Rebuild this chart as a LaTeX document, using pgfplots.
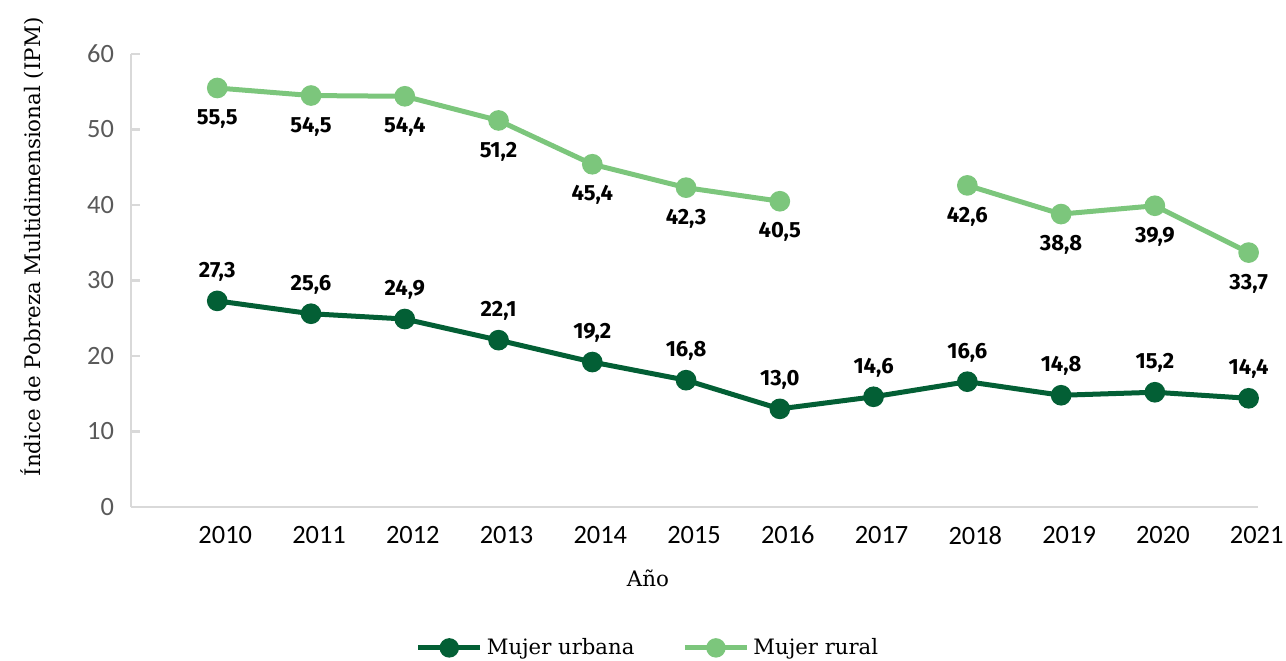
\documentclass[border=0pt]{standalone}
\usepackage{pgfplots}
\pgfplotsset{compat=1.18}
\usepackage{fontspec}
\setmainfont{DejaVu Serif}
\newfontfamily\carlito{Carlito}
\newfontfamily\fira{Fira Sans}
\definecolor{dkgreen}{HTML}{035F35}
\definecolor{ltgreen}{HTML}{7CC67C}
\definecolor{axisgray}{HTML}{D9D9D9}
\definecolor{tickgray}{HTML}{595959}
\begin{document}
\begin{tikzpicture}
\useasboundingbox (-65.5pt,-76.5pt) rectangle (577.5pt,253.5pt);
\begin{axis}[
  at={(0pt,0pt)}, anchor=south west,
  scale only axis, width=563.5pt, height=226.5pt,
  xmin=2009.08, xmax=2021.1, ymin=0, ymax=60,
  axis x line*=bottom, axis y line*=left,
  axis line style={draw=axisgray, line width=1.2pt},
  xtick={2010,2011,2012,2013,2014,2015,2016,2017,2018,2019,2020,2021},
  xticklabels={2010,2011,2012,2013,2014,2015,2016,2017,2018,2019,2020,2021},
  ytick={0,10,20,30,40,50,60},
  /pgf/number format/assume math mode=true,
  x tick style={draw=none},
  y tick style={draw=axisgray, line width=1.2pt},
  major tick length=4.5pt,
  tick align=inside,
  xticklabel style={font=\carlito\fontsize{13.2}{15}\selectfont, text=black, xshift=4pt, yshift=-6pt},
  yticklabel style={font=\carlito\fontsize{13.2}{15}\selectfont, text=tickgray, xshift=-5pt},
  xlabel={Año},
  xlabel style={font=\fontsize{10.7}{12}\selectfont, at={(axis description cs:0.4587,-0.157)}, anchor=center},
  ylabel={Índice de Pobreza Multidimensional (IPM)},
  ylabel style={font=\fontsize{10.7}{12}\selectfont, at={(axis description cs:-0.0878,0.574)}, anchor=center},
  unbounded coords=jump,
  clip=false,
  point meta=y,
  nodes near coords={\pgfmathprintnumber[fixed,fixed zerofill,precision=1,use comma,assume math mode=true]{\pgfplotspointmeta}},
  every node near coord/.append style={font=\fira\bfseries\fontsize{11}{13}\selectfont, text=black, anchor=center},
  legend columns=2,
  legend style={draw=none, fill=none, at={(axis description cs:0.4596,-0.311)}, anchor=center,
    font=\fontsize{10.6}{12}\selectfont,
    /tikz/every even column/.append style={column sep=22pt}},
  legend image code/.code={\draw[#1] (0pt,0pt) -- (31pt,0pt); \fill[#1] (15.5pt,0pt) circle (3.6pt);},
]
\addplot[color=dkgreen, line width=2.5pt, mark=*, mark size=3.9pt, mark options={solid},
  every node near coord/.append style={yshift=14.5pt}]
  coordinates {(2010,27.3) (2011,25.6) (2012,24.9) (2013,22.1) (2014,19.2) (2015,16.8)
  (2016,13.0) (2017,14.6) (2018,16.6) (2019,14.8) (2020,15.2) (2021,14.4)};
\addlegendentry{Mujer urbana}
\addplot[color=ltgreen, line width=2.5pt, mark=*, mark size=3.9pt, mark options={solid},
  every node near coord/.append style={yshift=-15.5pt}]
  coordinates {(2010,55.5) (2011,54.5) (2012,54.4) (2013,51.2) (2014,45.4) (2015,42.3)
  (2016,40.5) (2017,nan) (2018,42.6) (2019,38.8) (2020,39.9) (2021,33.7)};
\addlegendentry{Mujer rural}
\end{axis}
\end{tikzpicture}
\end{document}
